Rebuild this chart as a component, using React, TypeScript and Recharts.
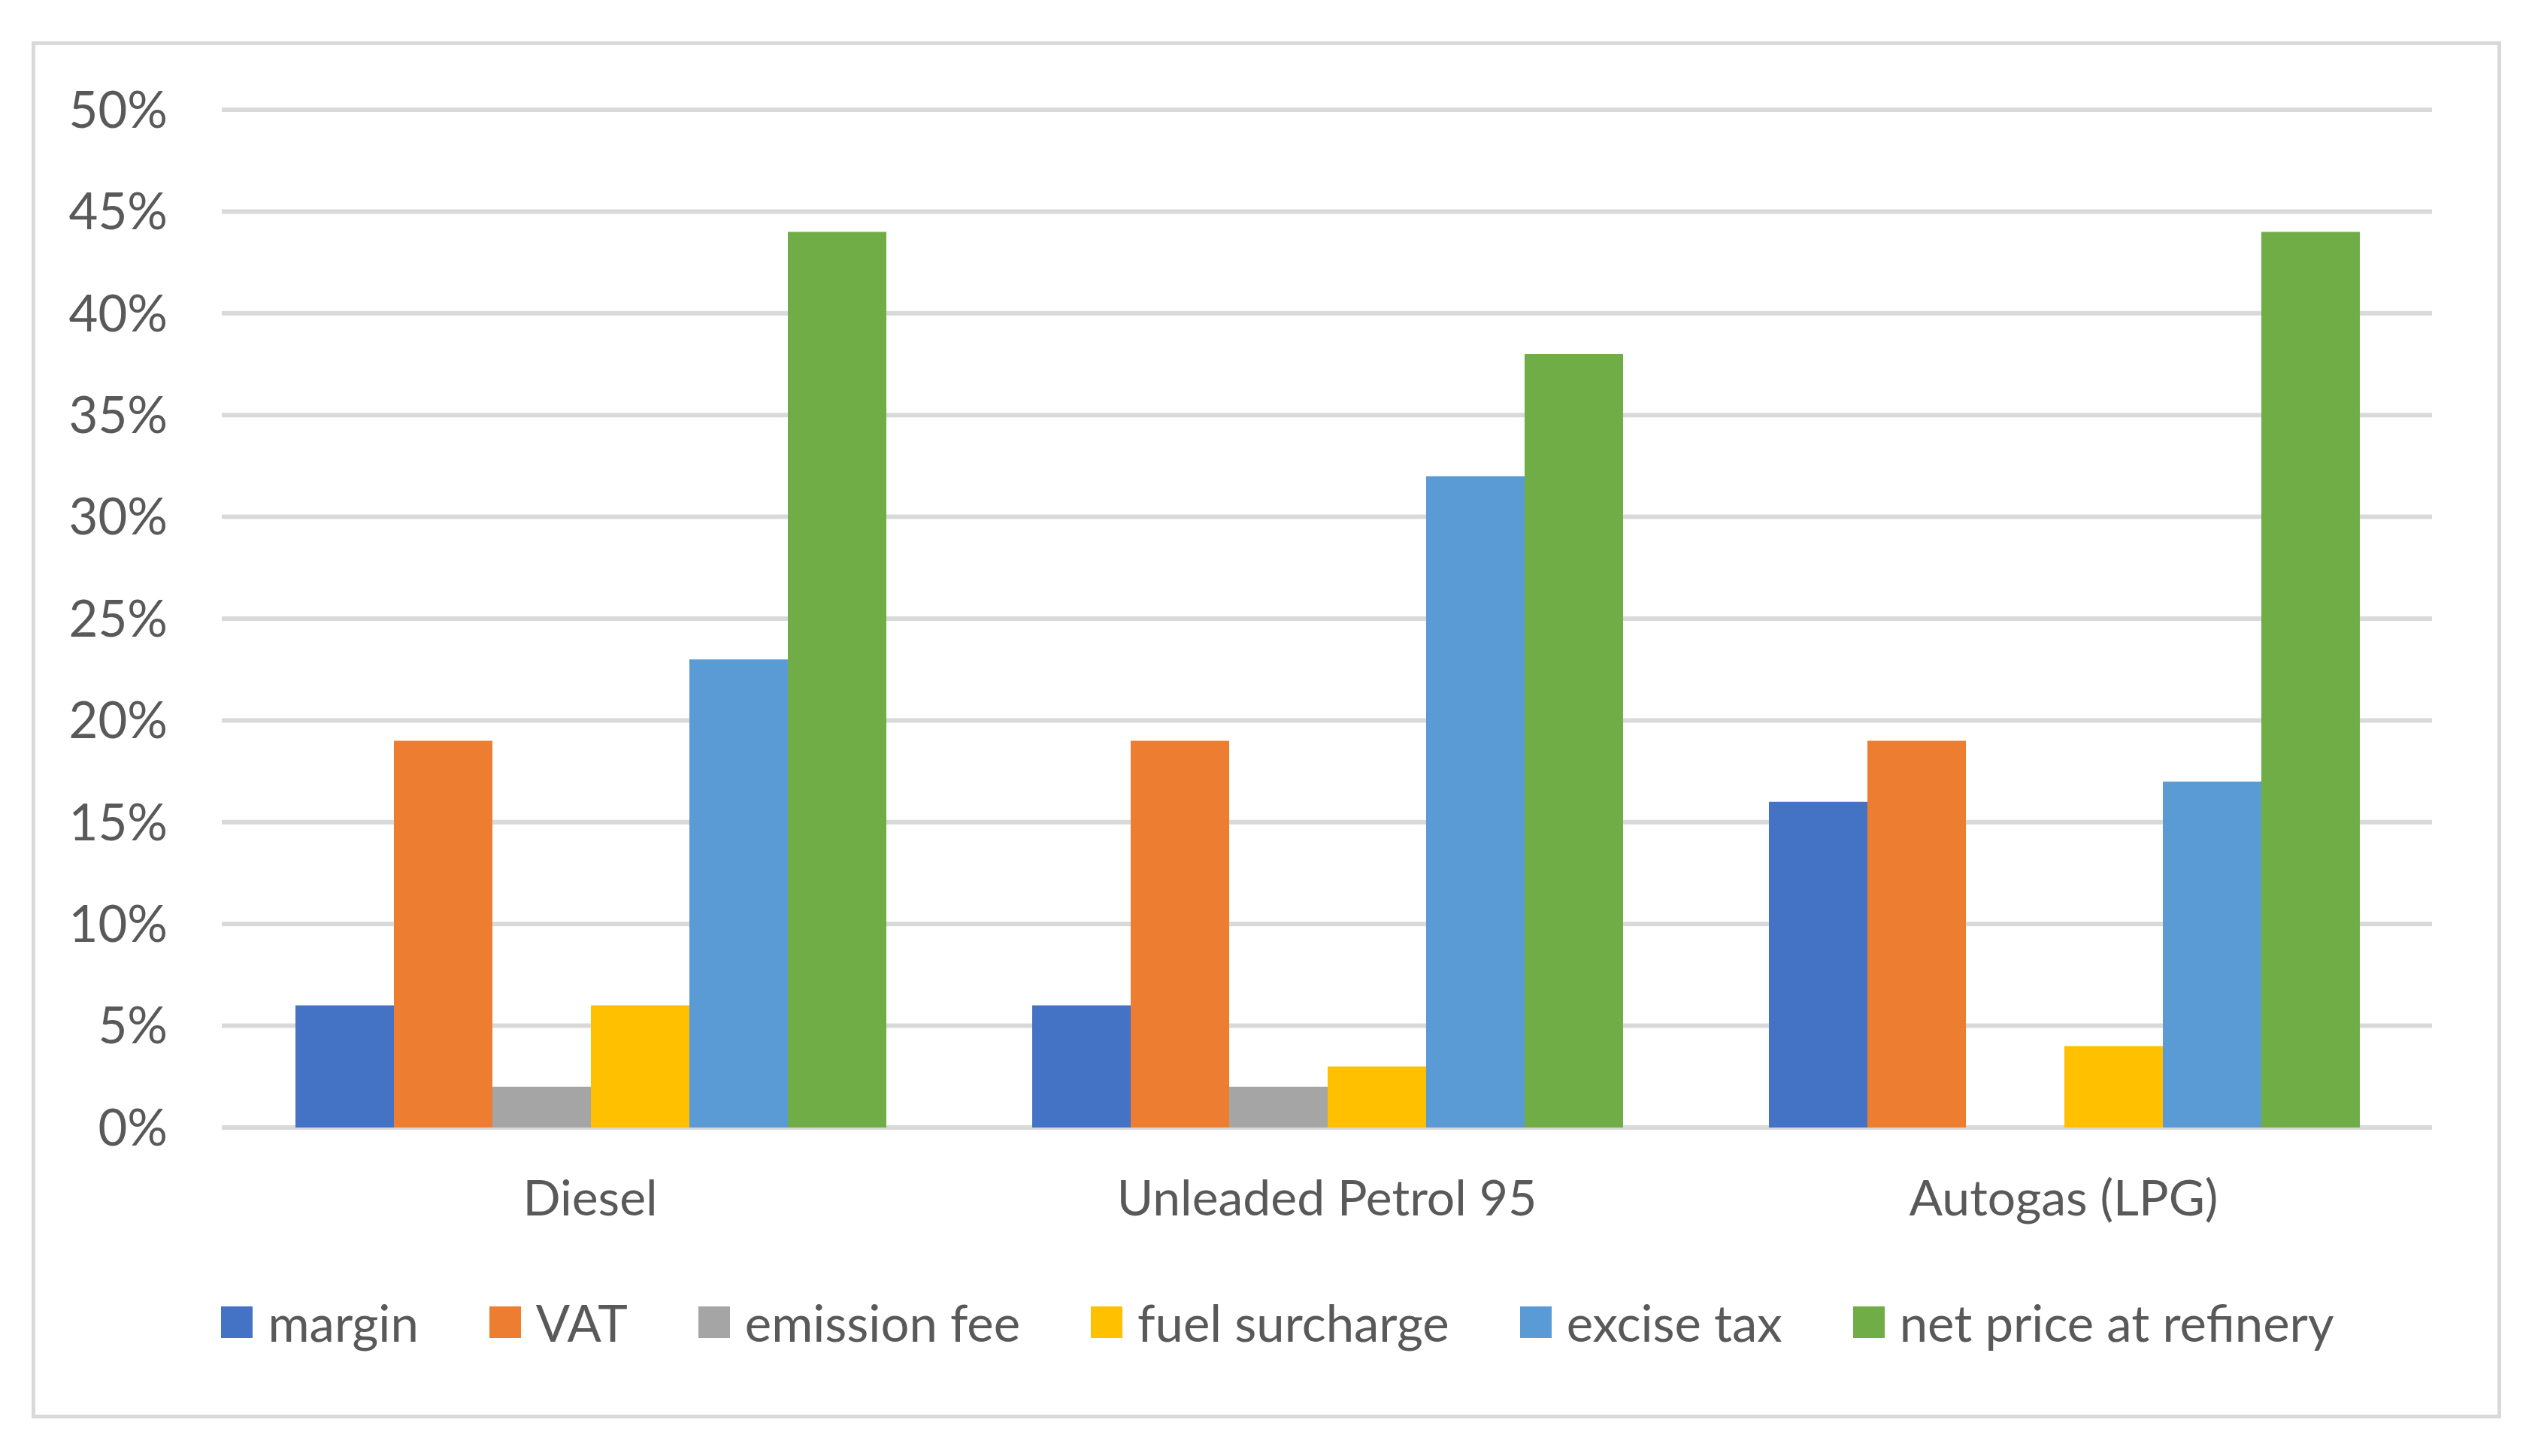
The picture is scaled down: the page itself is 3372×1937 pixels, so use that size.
import { Bar, BarChart, CartesianGrid, XAxis, YAxis } from "recharts";

const CATEGORIES = ["Diesel", "Unleaded Petrol 95", "Autogas (LPG)"];

const MARGIN = [6, 6, 16];
const VAT = [19, 19, 19];
const EMISSION_FEE = [2, 2, 0];
const FUEL_SURCHARGE = [6, 3, 4];
const EXCISE_TAX = [23, 32, 17];
const NET_PRICE = [44, 38, 44];

const Y_TICKS = [0, 5, 10, 15, 20, 25, 30, 35, 40, 45, 50];

const SERIES = [
  { key: "margin", label: "margin", color: "#4472C4", values: MARGIN },
  { key: "vat", label: "VAT", color: "#ED7D31", values: VAT },
  { key: "emission", label: "emission fee", color: "#A5A5A5", values: EMISSION_FEE },
  { key: "fuel", label: "fuel surcharge", color: "#FFC000", values: FUEL_SURCHARGE },
  { key: "excise", label: "excise tax", color: "#5B9BD5", values: EXCISE_TAX },
  { key: "net", label: "net price at refinery", color: "#70AD47", values: NET_PRICE },
];

const FONT = "Lato, 'Open Sans', sans-serif";
const TEXT = "#595959";
const GRID = "#D9D9D9";

const data = CATEGORIES.map((name, i) => {
  const row: Record<string, string | number> = { name };
  SERIES.forEach((s) => {
    row[s.key] = s.values[i];
  });
  return row;
});

export default function App() {
  return (
    <div
      style={{
        position: "relative",
        width: 3372,
        height: 1937,
        background: "#fff",
        fontFamily: FONT,
      }}
    >
      <style>{`body { margin: 0; }`}</style>
      {/* outer frame like the Excel chart border */}
      <div
        style={{
          position: "absolute",
          left: 42,
          top: 55,
          width: 3285,
          height: 1832,
          border: `5px solid ${GRID}`,
          boxSizing: "border-box",
        }}
      />
      <div style={{ position: "absolute", left: 0, top: 0 }}>
        <BarChart
          width={3372}
          height={1937}
          data={data}
          margin={{ top: 146, right: 137, bottom: 337, left: 45 }}
          barCategoryGap="10%"
          barGap={0}
        >
          <CartesianGrid vertical={false} stroke={GRID} strokeWidth={6} />
          <XAxis
            dataKey="name"
            height={100}
            axisLine={false}
            tickLine={false}
            tickMargin={64}
            tick={{ fontSize: 66, fill: TEXT, fontFamily: FONT }}
          />
          <YAxis
            width={250}
            domain={[0, 50]}
            ticks={Y_TICKS}
            interval={0}
            axisLine={false}
            tickLine={false}
            tickMargin={66}
            tickFormatter={(v) => `${v}%`}
            tick={{ fontSize: 67, fill: TEXT, fontFamily: FONT }}
          />
          {SERIES.map((s) => (
            <Bar
              key={s.key}
              dataKey={s.key}
              name={s.label}
              fill={s.color}
              isAnimationActive={false}
            />
          ))}
        </BarChart>
      </div>
      {/* legend */}
      <div
        style={{
          position: "absolute",
          left: 57,
          width: 3285,
          top: 1717,
          height: 84,
          display: "flex",
          justifyContent: "center",
          alignItems: "center",
        }}
      >
        {SERIES.map((s, i) => (
          <div
            key={s.key}
            style={{
              display: "flex",
              alignItems: "center",
              marginRight: i === SERIES.length - 1 ? 0 : 94,
            }}
          >
            <div
              style={{ width: 42, height: 42, background: s.color, marginRight: 20 }}
            />
            <span style={{ fontSize: 67, color: TEXT, lineHeight: 1 }}>{s.label}</span>
          </div>
        ))}
      </div>
    </div>
  );
}
